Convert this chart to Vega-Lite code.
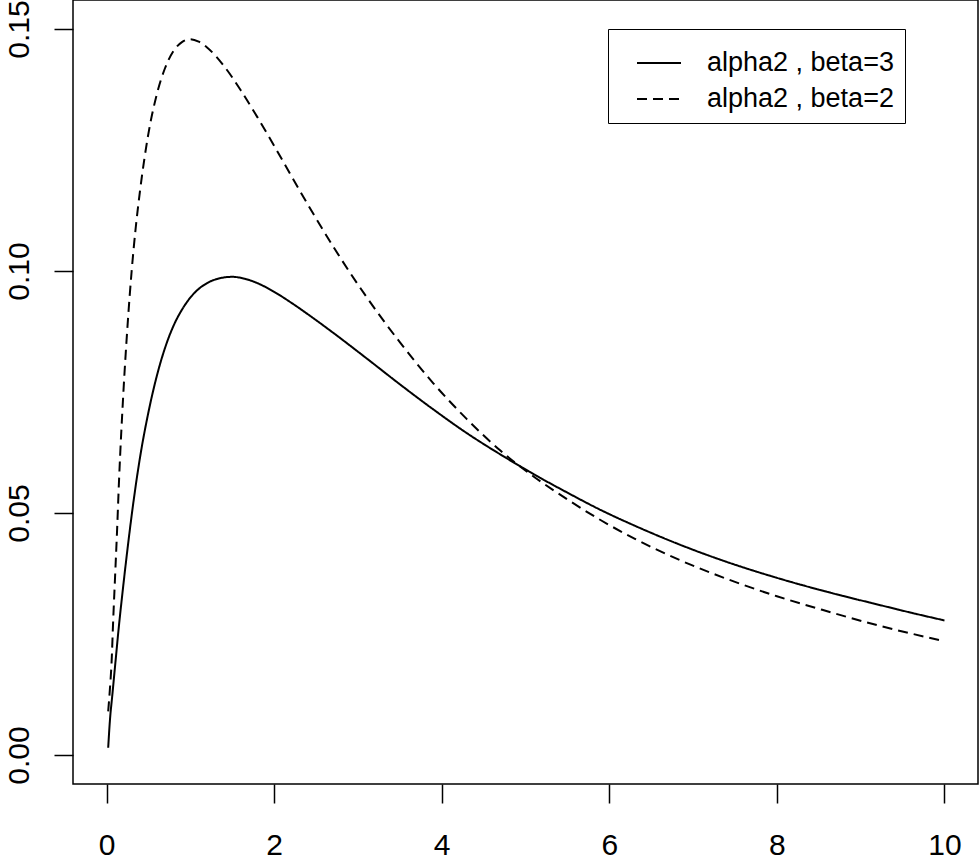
{
  "$schema": "https://vega.github.io/schema/vega-lite/v6.json",
  "width": 905,
  "height": 784,
  "autosize": {"type": "none"},
  "padding": {"left": 73, "top": 0, "right": 1, "bottom": 72},
  "background": "white",
  "config": {
    "view": {"stroke": "black", "strokeWidth": 1.5},
    "axis": {
      "grid": false,
      "domain": false,
      "tickColor": "black",
      "tickWidth": 1.5,
      "tickSize": 19,
      "labelColor": "black",
      "labelFont": "Liberation Sans",
      "labelFontSize": 30,
      "labelFlush": false,
      "labelOverlap": false,
      "title": null
    }
  },
  "data": {
    "values": [
      {"x": 0.02, "y": 0.0015, "s": "alpha2 , beta=3"},
      {"x": 0.04, "y": 0.007, "s": "alpha2 , beta=3"},
      {"x": 0.07, "y": 0.0125, "s": "alpha2 , beta=3"},
      {"x": 0.1, "y": 0.018, "s": "alpha2 , beta=3"},
      {"x": 0.15, "y": 0.027, "s": "alpha2 , beta=3"},
      {"x": 0.2, "y": 0.035, "s": "alpha2 , beta=3"},
      {"x": 0.25, "y": 0.0425, "s": "alpha2 , beta=3"},
      {"x": 0.3, "y": 0.0495, "s": "alpha2 , beta=3"},
      {"x": 0.4, "y": 0.0615, "s": "alpha2 , beta=3"},
      {"x": 0.5, "y": 0.0708, "s": "alpha2 , beta=3"},
      {"x": 0.6, "y": 0.0783, "s": "alpha2 , beta=3"},
      {"x": 0.7, "y": 0.0842, "s": "alpha2 , beta=3"},
      {"x": 0.8, "y": 0.0887, "s": "alpha2 , beta=3"},
      {"x": 0.9, "y": 0.092, "s": "alpha2 , beta=3"},
      {"x": 1.0, "y": 0.0945, "s": "alpha2 , beta=3"},
      {"x": 1.1, "y": 0.0963, "s": "alpha2 , beta=3"},
      {"x": 1.2, "y": 0.0975, "s": "alpha2 , beta=3"},
      {"x": 1.35, "y": 0.0985, "s": "alpha2 , beta=3"},
      {"x": 1.5, "y": 0.0988, "s": "alpha2 , beta=3"},
      {"x": 1.65, "y": 0.0984, "s": "alpha2 , beta=3"},
      {"x": 1.8, "y": 0.0975, "s": "alpha2 , beta=3"},
      {"x": 2.0, "y": 0.0957, "s": "alpha2 , beta=3"},
      {"x": 2.2, "y": 0.0935, "s": "alpha2 , beta=3"},
      {"x": 2.4, "y": 0.0911, "s": "alpha2 , beta=3"},
      {"x": 2.7, "y": 0.0873, "s": "alpha2 , beta=3"},
      {"x": 3.1, "y": 0.082, "s": "alpha2 , beta=3"},
      {"x": 3.5, "y": 0.0766, "s": "alpha2 , beta=3"},
      {"x": 3.9, "y": 0.0714, "s": "alpha2 , beta=3"},
      {"x": 4.3, "y": 0.0665, "s": "alpha2 , beta=3"},
      {"x": 4.7, "y": 0.0621, "s": "alpha2 , beta=3"},
      {"x": 5.1, "y": 0.058, "s": "alpha2 , beta=3"},
      {"x": 5.5, "y": 0.0542, "s": "alpha2 , beta=3"},
      {"x": 5.9, "y": 0.0506, "s": "alpha2 , beta=3"},
      {"x": 6.3, "y": 0.0474, "s": "alpha2 , beta=3"},
      {"x": 6.85, "y": 0.0434, "s": "alpha2 , beta=3"},
      {"x": 7.4, "y": 0.0399, "s": "alpha2 , beta=3"},
      {"x": 8.0, "y": 0.0366, "s": "alpha2 , beta=3"},
      {"x": 8.6, "y": 0.0337, "s": "alpha2 , beta=3"},
      {"x": 9.2, "y": 0.0311, "s": "alpha2 , beta=3"},
      {"x": 9.6, "y": 0.0294, "s": "alpha2 , beta=3"},
      {"x": 10.0, "y": 0.0278, "s": "alpha2 , beta=3"},
      {"x": 0.02, "y": 0.009, "s": "alpha2 , beta=2"},
      {"x": 0.04, "y": 0.0135, "s": "alpha2 , beta=2"},
      {"x": 0.06, "y": 0.019, "s": "alpha2 , beta=2"},
      {"x": 0.08, "y": 0.028, "s": "alpha2 , beta=2"},
      {"x": 0.1, "y": 0.036, "s": "alpha2 , beta=2"},
      {"x": 0.125, "y": 0.046, "s": "alpha2 , beta=2"},
      {"x": 0.15, "y": 0.057, "s": "alpha2 , beta=2"},
      {"x": 0.2, "y": 0.0745, "s": "alpha2 , beta=2"},
      {"x": 0.25, "y": 0.0885, "s": "alpha2 , beta=2"},
      {"x": 0.3, "y": 0.1, "s": "alpha2 , beta=2"},
      {"x": 0.35, "y": 0.1092, "s": "alpha2 , beta=2"},
      {"x": 0.4, "y": 0.1166, "s": "alpha2 , beta=2"},
      {"x": 0.5, "y": 0.1284, "s": "alpha2 , beta=2"},
      {"x": 0.6, "y": 0.1365, "s": "alpha2 , beta=2"},
      {"x": 0.7, "y": 0.142, "s": "alpha2 , beta=2"},
      {"x": 0.8, "y": 0.1455, "s": "alpha2 , beta=2"},
      {"x": 0.9, "y": 0.1473, "s": "alpha2 , beta=2"},
      {"x": 1.0, "y": 0.1479, "s": "alpha2 , beta=2"},
      {"x": 1.1, "y": 0.1474, "s": "alpha2 , beta=2"},
      {"x": 1.2, "y": 0.1462, "s": "alpha2 , beta=2"},
      {"x": 1.4, "y": 0.1424, "s": "alpha2 , beta=2"},
      {"x": 1.6, "y": 0.1374, "s": "alpha2 , beta=2"},
      {"x": 1.8, "y": 0.1318, "s": "alpha2 , beta=2"},
      {"x": 2.0, "y": 0.1259, "s": "alpha2 , beta=2"},
      {"x": 2.2, "y": 0.1198, "s": "alpha2 , beta=2"},
      {"x": 2.4, "y": 0.1138, "s": "alpha2 , beta=2"},
      {"x": 2.7, "y": 0.1052, "s": "alpha2 , beta=2"},
      {"x": 3.1, "y": 0.0947, "s": "alpha2 , beta=2"},
      {"x": 3.5, "y": 0.0853, "s": "alpha2 , beta=2"},
      {"x": 3.9, "y": 0.0768, "s": "alpha2 , beta=2"},
      {"x": 4.3, "y": 0.0694, "s": "alpha2 , beta=2"},
      {"x": 4.7, "y": 0.0629, "s": "alpha2 , beta=2"},
      {"x": 5.1, "y": 0.0575, "s": "alpha2 , beta=2"},
      {"x": 5.5, "y": 0.0528, "s": "alpha2 , beta=2"},
      {"x": 5.9, "y": 0.0485, "s": "alpha2 , beta=2"},
      {"x": 6.3, "y": 0.0447, "s": "alpha2 , beta=2"},
      {"x": 6.85, "y": 0.0402, "s": "alpha2 , beta=2"},
      {"x": 7.4, "y": 0.0364, "s": "alpha2 , beta=2"},
      {"x": 8.0, "y": 0.0328, "s": "alpha2 , beta=2"},
      {"x": 8.6, "y": 0.0297, "s": "alpha2 , beta=2"},
      {"x": 9.2, "y": 0.0268, "s": "alpha2 , beta=2"},
      {"x": 9.6, "y": 0.0251, "s": "alpha2 , beta=2"},
      {"x": 10.0, "y": 0.0235, "s": "alpha2 , beta=2"}
    ]
  },
  "mark": {"type": "line", "color": "black", "strokeWidth": 2, "interpolate": "monotone"},
  "encoding": {
    "x": {
      "field": "x",
      "type": "quantitative",
      "scale": {"domain": [-0.4, 10.4], "nice": false, "zero": false},
      "axis": {"values": [0, 2, 4, 6, 8, 10], "format": "d", "labelPadding": 27}
    },
    "y": {
      "field": "y",
      "type": "quantitative",
      "scale": {"domain": [-0.006, 0.156], "nice": false, "zero": false},
      "axis": {
        "values": [0, 0.05, 0.1, 0.15],
        "format": ".2f",
        "labelAngle": 270,
        "labelAlign": "center",
        "labelBaseline": "alphabetic",
        "labelPadding": 26
      }
    },
    "strokeDash": {
      "field": "s",
      "type": "nominal",
      "scale": {
        "domain": ["alpha2 , beta=3", "alpha2 , beta=2"],
        "range": [[1, 0], [10, 6]]
      },
      "legend": {
        "title": null,
        "orient": "none",
        "legendX": 535,
        "legendY": 29,
        "padding": 11,
        "strokeColor": "black",
        "fillColor": "white",
        "symbolType": "stroke",
        "symbolSize": 1936,
        "symbolStrokeWidth": 2,
        "symbolStrokeColor": "black",
        "symbolOffset": 17,
        "labelFont": "Liberation Sans",
        "labelFontSize": 27,
        "labelColor": "black",
        "labelOffset": 25,
        "labelLimit": 400,
        "rowPadding": -12
      }
    }
  }
}
